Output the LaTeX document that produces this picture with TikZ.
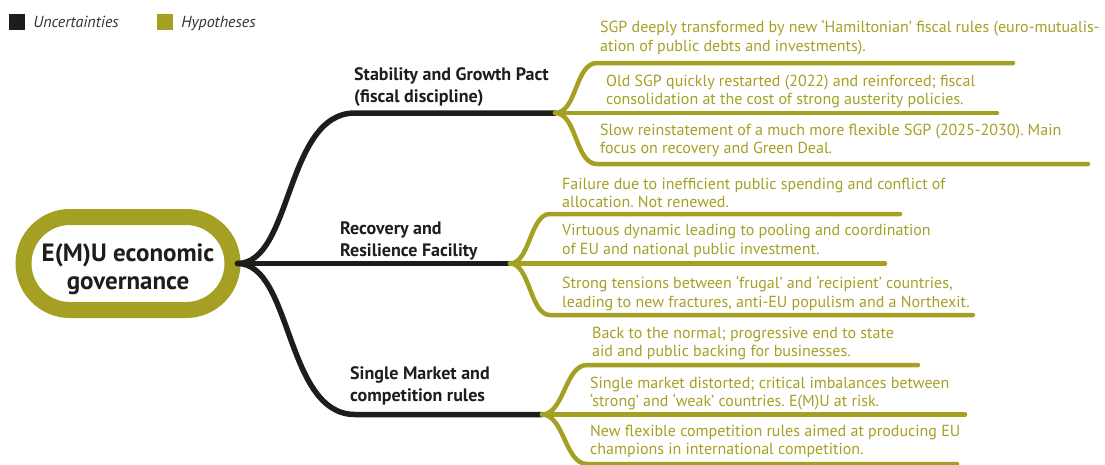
\documentclass[tikz,border=0pt]{standalone}
\usepackage{fontspec}
\setmainfont{PT Sans}
\usetikzlibrary{positioning,shapes.misc}
\definecolor{uncert}{RGB}{29,29,27}
\definecolor{hypo}{RGB}{164,160,36}
\frenchspacing
\begin{document}
\begin{tikzpicture}[x=1pt, y=-1pt,
  root/.style={draw=hypo, line width=16pt, rounded rectangle,
               minimum width=209pt, minimum height=93pt, inner sep=0pt,
               align=center, text=uncert,
               font=\fontsize{25}{28}\selectfont\bfseries},
  branch/.style={anchor=west, align=left, inner sep=0pt, text=uncert,
                 font=\fontsize{18}{22}\selectfont\bfseries},
  leaf/.style={anchor=west, align=left, inner sep=0pt, text=hypo,
               font=\fontsize{16}{18.5}\selectfont},
  stem/.style={draw=uncert, line width=5.5pt, line cap=round},
  twig/.style={draw=hypo, line width=4.5pt, line cap=round},
  legsq/.style={fill=#1, minimum size=16pt, inner sep=0pt},
  legtxt/.style={inner sep=0pt, text=black!80, text height=11.5pt,
                 text depth=3.5pt, font=\fontsize{16}{18}\selectfont\itshape}
]
  \useasboundingbox (0,0) rectangle (1105,464);

  % legend
  \node[legsq=uncert] (unc-sq) at (17,22) {};
  \node[legtxt, right=8pt of unc-sq, yshift=-1.5pt] (unc) {Uncertainties};
  \node[legsq=hypo]   (hyp-sq) at (165,22) {};
  \node[legtxt, right=8pt of hyp-sq, yshift=-1.5pt] (hyp) {Hypotheses};

  % root and branches
  \node[root] (emu) at (128,263.5) {\rule{0pt}{30pt}E(M)U economic\\governance};

  \coordinate (sgp-s) at (355,113);
  \coordinate (sgp-f) at (555,113);
  \coordinate (rrf-f) at (510,263.5);
  \coordinate (smc-s) at (355,414.5);
  \coordinate (smc-f) at (542,414.5);

  \node[branch] (sgp) at (354,87)    {Stability and Growth Pact\\(fiscal discipline)};
  \node[branch] (rrf) at (340,240.5) {Recovery and\\Resilience Facility};
  \node[branch] (smc) at (350,385.5) {Single Market and\\competition rules};

  \draw[stem] ([xshift=-3pt]emu.east) .. controls +(55,0) and +(-70,0) .. (sgp-s) -- (sgp-f);
  \draw[stem] ([xshift=-3pt]emu.east) -- (rrf-f);
  \draw[stem] ([xshift=-3pt]emu.east) .. controls +(55,0) and +(-70,0) .. (smc-s) -- (smc-f);

  % leaf lines
  \coordinate (sgp-b) at (597,0);
  \coordinate (rrf-b) at (550,0);
  \coordinate (smc-b) at (587,0);
  \coordinate (sgp-1) at (1013,63);
  \coordinate (sgp-2) at (997,113);
  \coordinate (sgp-3) at (1088,164);
  \coordinate (rrf-1) at (900,214);
  \coordinate (rrf-2) at (885,263.5);
  \coordinate (rrf-3) at (973,315);
  \coordinate (smc-1) at (918,365);
  \coordinate (smc-2) at (965,414.5);
  \coordinate (smc-3) at (957,464);

  \draw[twig] (sgp-f) .. controls +(22,0) and +(-22,0) .. (sgp-1 -| sgp-b) -- (sgp-1);
  \draw[twig] (sgp-f) -- (sgp-2);
  \draw[twig] (sgp-f) .. controls +(22,0) and +(-22,0) .. (sgp-3 -| sgp-b) -- (sgp-3);
  \draw[twig] (rrf-f) .. controls +(20,0) and +(-20,0) .. (rrf-1 -| rrf-b) -- (rrf-1);
  \draw[twig] (rrf-f) -- (rrf-2);
  \draw[twig] (rrf-f) .. controls +(20,0) and +(-20,0) .. (rrf-3 -| rrf-b) -- (rrf-3);
  \draw[twig] (smc-f) .. controls +(22,0) and +(-22,0) .. (smc-1 -| smc-b) -- (smc-1);
  \draw[twig] (smc-f) -- (smc-2);
  \draw[twig] (smc-f) .. controls +(22,0) and +(-22,0) .. (smc-3 -| smc-b) -- (smc-3);

  % hypotheses
  \node[leaf] (sgp-h1) at (600,37.5)  {SGP deeply transformed by new ‘Hamiltonian’ fiscal rules (euro-mutualis-\\ation of public debts and investments).};
  \node[leaf] (sgp-h2) at (606,91.5)  {Old SGP quickly restarted (2022) and reinforced; fiscal\\consolidation at the cost of strong austerity policies.};
  \node[leaf] (sgp-h3) at (600,140.5) {Slow reinstatement of a much more flexible SGP (2025-2030). Main\\focus on recovery and Green Deal.};
  \node[leaf] (rrf-h1) at (562,193)   {Failure due to inefficient public spending and conflict of\\allocation. Not renewed.};
  \node[leaf] (rrf-h2) at (562,241)   {Virtuous dynamic leading to pooling and coordination\\of EU and national public investment.};
  \node[leaf] (rrf-h3) at (562,293.5) {Strong tensions between ‘frugal’ and ‘recipient’ countries,\\leading to new fractures, anti-EU populism and a Northexit.};
  \node[leaf] (smc-h1) at (592,343.5) {Back to the normal; progressive end to state\\aid and public backing for businesses.};
  \node[leaf] (smc-h2) at (590,393.5) {Single market distorted; critical imbalances between\\‘strong’ and ‘weak’ countries. E(M)U at risk.};
  \node[leaf] (smc-h3) at (590,441.5) {New flexible competition rules aimed at producing EU\\champions in international competition.};
\end{tikzpicture}
\end{document}
